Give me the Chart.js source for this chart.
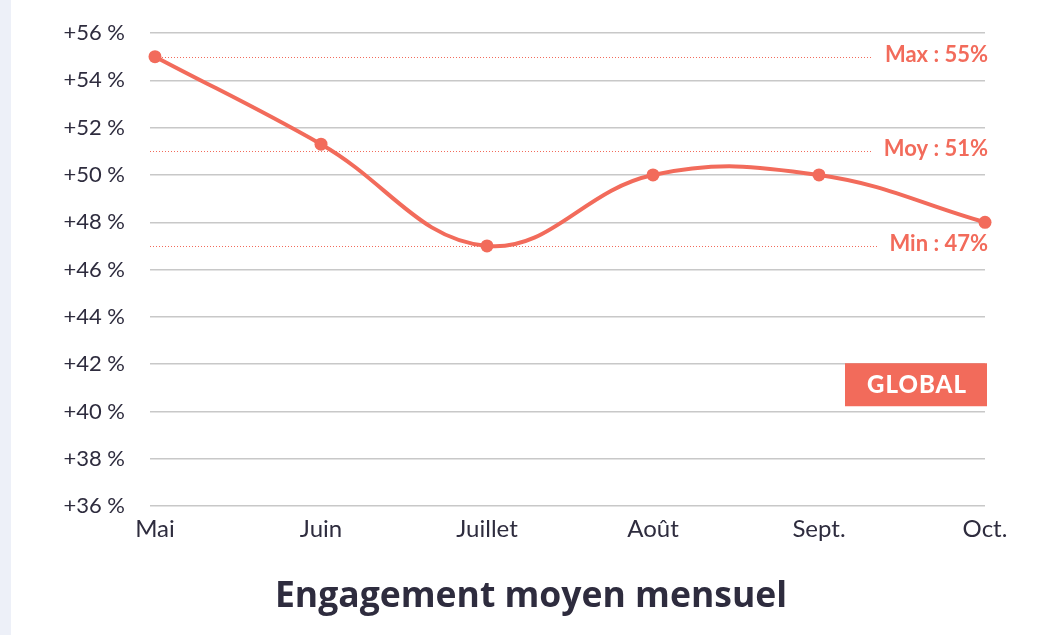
<!DOCTYPE html>
<html lang="fr">
<head>
<meta charset="utf-8">
<title>Engagement moyen mensuel</title>
<script src="https://cdn.jsdelivr.net/npm/chart.js@4.4.1/dist/chart.umd.min.js"></script>
<style>
  html, body { margin: 0; padding: 0; background: #fff; }
  #strip { position: absolute; left: 0; top: 0; width: 11px; height: 635px; background: #edf0f8; }
  #wrap { position: absolute; left: 0; top: 0; width: 1038px; height: 635px; }
</style>
</head>
<body>
<div id="strip"></div>
<div id="wrap"><canvas id="chart" width="1038" height="635"></canvas></div>
<script>
// data
const months = ['Mai', 'Juin', 'Juillet', 'Août', 'Sept.', 'Oct.'];
const engagement = [55, 51.3, 47, 50, 50, 48];
const refValues = [55, 51, 47];
const refLabels = ['Max : 55%', 'Moy : 51%', 'Min : 47%'];
const badgeText = 'GLOBAL';
const titleText = 'Engagement moyen mensuel';

const coral = '#f26b5b';
const ink = '#2e2c3e';

// dotted max / moy / min lines, the GLOBAL badge and the title
const extras = {
  id: 'extras',
  beforeDatasetsDraw(chart) {
    const ctx = chart.ctx;
    const area = chart.chartArea;
    const y = chart.scales.y;
    ctx.save();
    ctx.font = 'bold 22px Lato';
    ctx.textAlign = 'right';
    ctx.textBaseline = 'middle';
    refValues.forEach((v, i) => {
      const py = Math.round(y.getPixelForValue(v)) + 0.5;
      const tw = ctx.measureText(refLabels[i]).width;
      const right = area.right + 3;
      ctx.strokeStyle = coral;
      ctx.lineWidth = 1;
      ctx.setLineDash([1, 2]);
      ctx.beginPath();
      ctx.moveTo(area.left - 5, py);
      ctx.lineTo(right - tw - 12, py);
      ctx.stroke();
      ctx.fillStyle = coral;
      ctx.fillText(refLabels[i], right, py - 3);
    });
    ctx.restore();
  },
  afterDraw(chart) {
    const ctx = chart.ctx;
    const area = chart.chartArea;
    const y = chart.scales.y;
    const top = y.getPixelForValue(42) - 1;
    const h = 43, w = 142;
    const left = area.right + 2 - w;
    ctx.save();
    ctx.fillStyle = coral;
    ctx.fillRect(left, top, w, h);
    ctx.fillStyle = '#fff';
    ctx.font = '900 24px Lato';
    ctx.letterSpacing = '1px';
    ctx.textAlign = 'center';
    ctx.textBaseline = 'middle';
    ctx.fillText(badgeText, left + w / 2 + 1, top + h / 2 + 1);

    ctx.letterSpacing = '0px';
    ctx.fillStyle = ink;
    ctx.font = 'bold 35.5px "Open Sans"';
    ctx.textBaseline = 'alphabetic';
    ctx.fillText(titleText, 531, 607);
    ctx.restore();
  }
};

new Chart(document.getElementById('chart'), {
  type: 'line',
  data: {
    labels: months,
    datasets: [{
      label: 'Engagement',
      data: engagement,
      borderColor: coral,
      backgroundColor: coral,
      borderWidth: 4,
      tension: 0.4,
      pointRadius: 6.5,
      pointBorderWidth: 0,
      pointBackgroundColor: coral,
      clip: false
    }]
  },
  options: {
    responsive: false,
    animation: false,
    layout: { padding: { top: 33, right: 53, left: 0, bottom: 82 } },
    plugins: {
      legend: { display: false },
      tooltip: { enabled: false },
      title: { display: false }
    },
    scales: {
      x: {
        offset: false,
        grid: { display: false, drawTicks: false, tickLength: 0 },
        border: { display: false },
        ticks: { color: ink, font: { family: 'Lato', size: 24 }, padding: 9, maxRotation: 0 }
      },
      y: {
        min: 36,
        max: 56,
        afterFit(scale) {
          scale.width = 155;
          // the wide tick padding is horizontal only
          scale.paddingTop = 0;
          scale.paddingBottom = 0;
        },
        grid: { color: '#c8c8c8', lineWidth: 1.5, tickLength: 5 },
        border: { display: false },
        ticks: {
          stepSize: 2,
          color: ink,
          padding: 25,
          font: { family: 'Lato', size: 22 },
          callback: v => '+' + v + ' %'
        }
      }
    }
  },
  plugins: [extras]
});
</script>
</body>
</html>
